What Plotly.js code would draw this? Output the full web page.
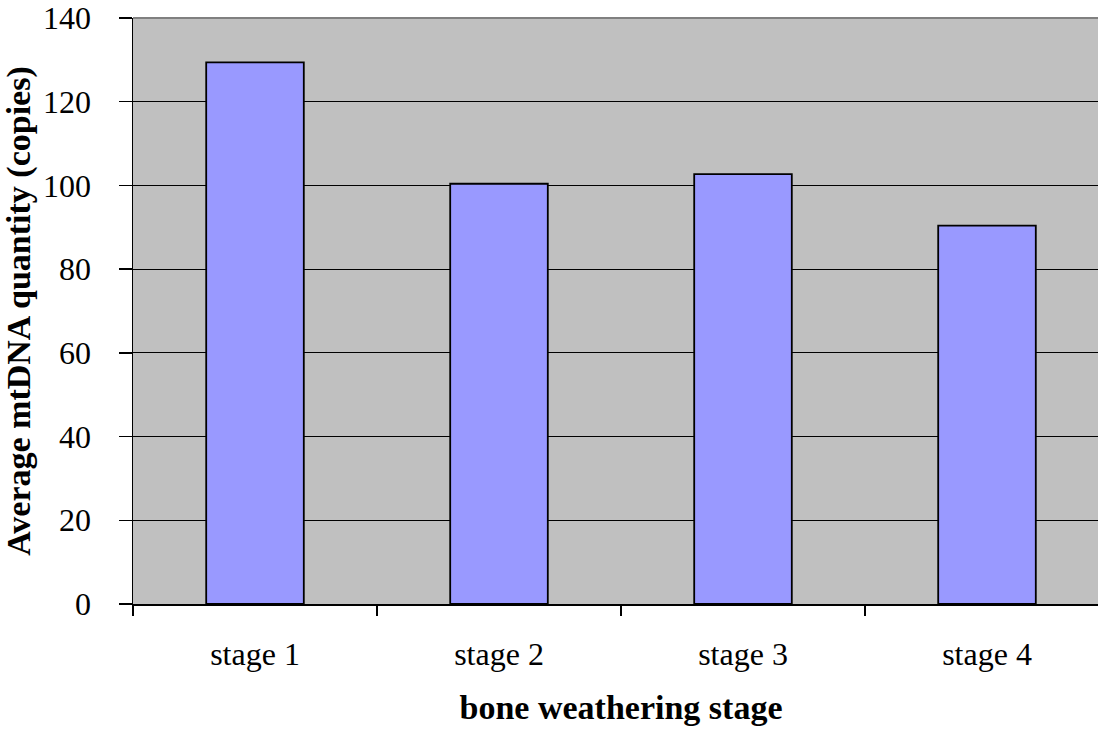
<!DOCTYPE html>
<html>
<head>
<meta charset="utf-8">
<script src="https://cdn.plot.ly/plotly-3.0.1.min.js"></script>
<style>
html, body { margin: 0; padding: 0; overflow: hidden; background: #fff; }
#chart { width: 1109px; height: 729px; }
</style>
</head>
<body>
<div id="chart"></div>
<script>
const categories = ["stage 1", "stage 2", "stage 3", "stage 4"];
const values = [129.4, 100.4, 102.7, 90.4];
const yTicks = [0, 20, 40, 60, 80, 100, 120, 140];
const xTitle = "bone weathering stage";
const yTitle = "Average mtDNA quantity (copies)";

const font = "'Liberation Serif', 'Times New Roman', serif";

const trace = {
  type: "bar",
  x: categories,
  y: values,
  marker: { color: "#9999FF", line: { color: "#000000", width: 1.8 } },
  hoverinfo: "x+y"
};

const layout = {
  width: 1109,
  height: 729,
  margin: { l: 133, r: 0, t: 18, b: 125 },
  paper_bgcolor: "#ffffff",
  plot_bgcolor: "#C0C0C0",
  bargap: 0.6,
  showlegend: false,
  font: { family: font, color: "#000", size: 32 },
  xaxis: {
    type: "category",
    range: [-0.5, 3.5],
    tickson: "boundaries",
    ticks: "outside",
    ticklen: 10,
    tickwidth: 1.3,
    tickcolor: "#000",
    showline: true,
    linecolor: "#000",
    linewidth: 1.5,
    showgrid: false,
    zeroline: false,
    tickfont: { family: font, size: 32, color: "#000" },
    ticklabelstandoff: 21,
    title: { text: xTitle, font: { family: font, size: 34, color: "#000", weight: "bold" }, standoff: 24 },
    fixedrange: true
  },
  yaxis: {
    range: [0, 140],
    tickvals: yTicks,
    ticktext: yTicks.map(String),
    ticks: "outside",
    ticklen: 13,
    tickwidth: 1.3,
    tickcolor: "#000",
    showline: true,
    linecolor: "#000",
    linewidth: 1.5,
    showgrid: true,
    gridcolor: "#000",
    gridwidth: 1,
    zeroline: false,
    tickfont: { family: font, size: 32, color: "#000" },
    ticklabelstandoff: 21,
    ticklabeloverflow: "allow",
    title: { text: yTitle, font: { family: font, size: 34, color: "#000", weight: "bold" }, standoff: 6 },
    fixedrange: true
  },
  shapes: [{
    type: "line", xref: "paper", yref: "paper",
    x0: 0, x1: 1, y0: 1, y1: 1,
    line: { color: "#808080", width: 2 },
    layer: "above"
  }]
};

Plotly.newPlot("chart", [trace], layout, { displayModeBar: false, staticPlot: true });
</script>
</body>
</html>
